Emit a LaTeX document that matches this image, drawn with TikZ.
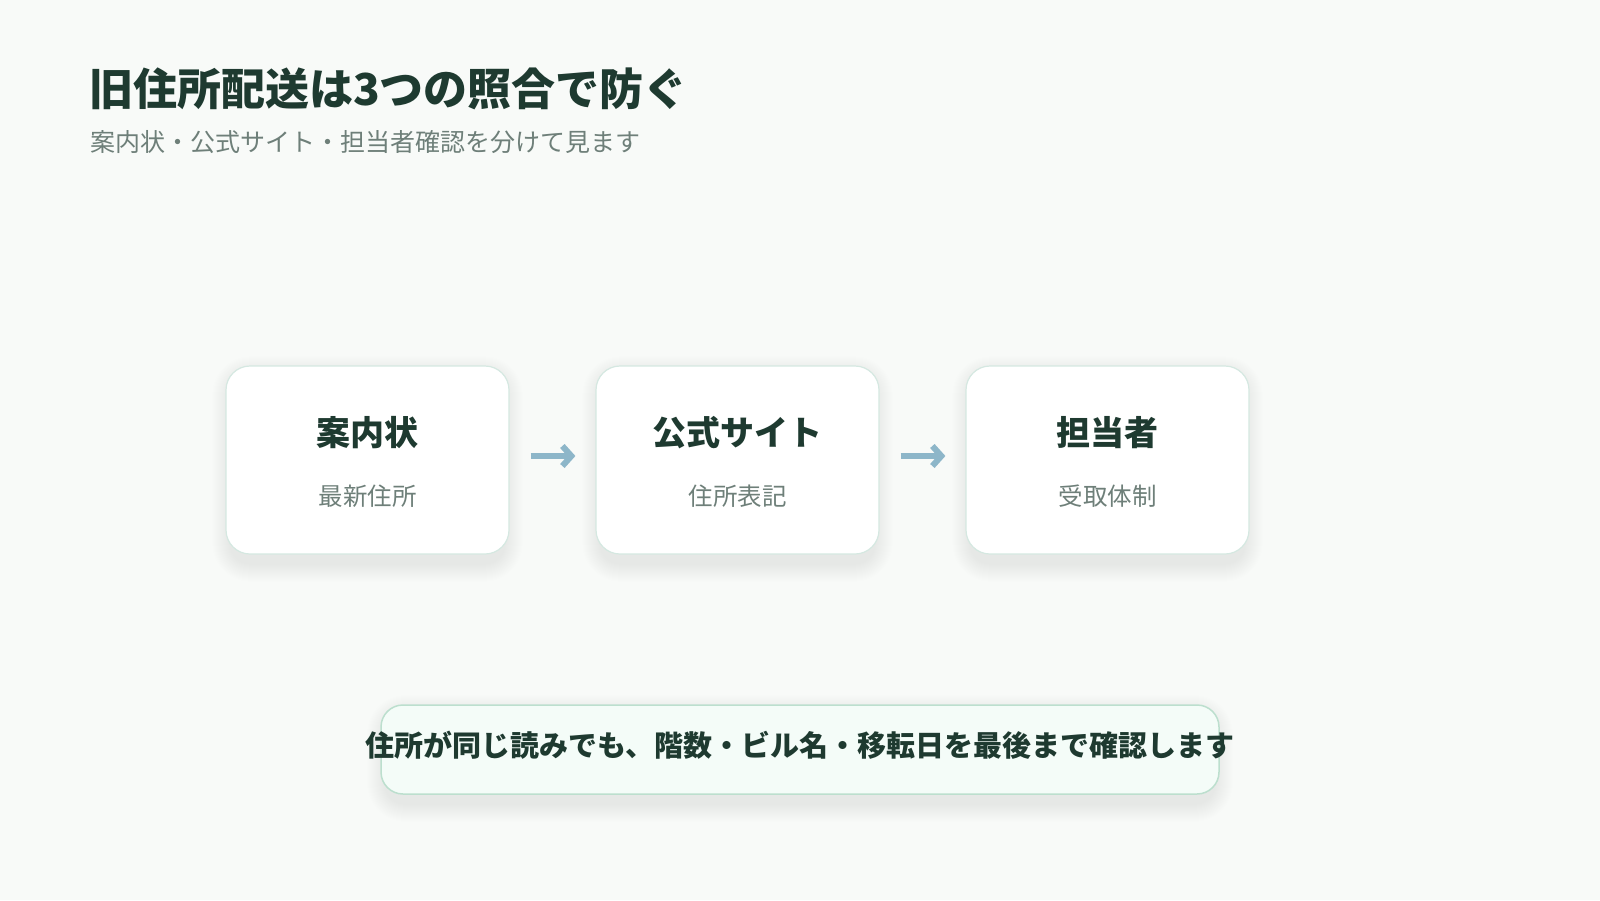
\documentclass[tikz,border=0pt]{standalone}
\usepackage{fontspec}
\setmainfont{Noto Sans CJK JP}
\usetikzlibrary{arrows.meta,backgrounds}
\definecolor{paper}{HTML}{F8FAF8}
\definecolor{inkdark}{HTML}{1E3A30}
\definecolor{inkgray}{HTML}{6E7F79}
\definecolor{cardline}{HTML}{D5E8E1}
\definecolor{arrowblue}{HTML}{8DB6C9}
\definecolor{notefill}{HTML}{F4FCF8}
\definecolor{noteline}{HTML}{BCDFCE}

\begin{document}
\begin{tikzpicture}[line cap=round,line join=round,x=1pt,y=-1pt,
  card/.style={draw=cardline,line width=1.2pt,fill=white,rounded corners=24pt,
    minimum width=283pt,minimum height=188pt,inner sep=0pt},
  cardtitle/.style={text=inkdark,font=\fontsize{34}{40}\selectfont\bfseries,inner sep=0pt},
  cardsub/.style={text=inkgray,font=\fontsize{24.5}{30}\selectfont,inner sep=0pt},
  flow/.style={draw=arrowblue,line width=6pt,line cap=butt,line join=miter,
    -{Straight Barb[length=9pt,width=20pt,line width=6pt,line cap=butt]},
    shorten <=21pt,shorten >=20pt},
  notebox/.style={draw=noteline,line width=1.5pt,fill=notefill,rounded corners=22pt,
    minimum width=838pt,minimum height=89pt,inner sep=0pt},
  softshadow/.style={fill=black,opacity=0.0045}]
  \useasboundingbox (0,0) rectangle (1600,900);
  % heading
  \node[anchor=base west,inner sep=0pt,text=inkdark,font=\fontsize{44}{52}\selectfont\bfseries] (title) at (89,105) {旧住所配送は3つの照合で防ぐ};
  \node[anchor=base west,inner sep=0pt,text=inkgray,font=\fontsize{25}{30}\selectfont] (subtitle) at (90,151) {案内状・公式サイト・担当者確認を分けて見ます};
  % three checks
  \node[card] (notice) at (367.5,460) {};
  \node[card] (website) at (737.5,460) {};
  \node[card] (staff) at (1107.5,460) {};
  \node[cardtitle] (noticet) at (367.5,433) {案内状};
  \node[cardsub] (notices) at (367.5,496) {最新住所};
  \node[cardtitle] (websitet) at (737.5,433) {公式サイト};
  \node[cardsub] (websites) at (737.5,496) {住所表記};
  \node[cardtitle] (stafft) at (1107.5,433) {担当者};
  \node[cardsub] (staffs) at (1107.5,496) {受取体制};
  \draw[flow] (notice.east |- 0,456) -- (website.west |- 0,456);
  \draw[flow] (website.east |- 0,456) -- (staff.west |- 0,456);
  % note
  \node[notebox] (note) at (800,749.5) {};
  \node[text=inkdark,font=\fontsize{29}{34}\selectfont\bfseries,inner sep=0pt] (notet) at (800,745) {住所が同じ読みでも、階数・ビル名・移転日を最後まで確認します};
  % paper and shadows
  \begin{scope}[on background layer]
    \fill[paper] (0,0) rectangle (1600,900);
    \foreach \c in {notice,website,staff,note}
      \foreach \k in {1,...,18}
        \fill[softshadow,rounded corners=20pt+\k pt]
          ([shift={(-\k+5,9-\k)}]\c.north west) rectangle ([shift={(\k-5,9+\k)}]\c.south east);
  \end{scope}
\end{tikzpicture}
\end{document}
